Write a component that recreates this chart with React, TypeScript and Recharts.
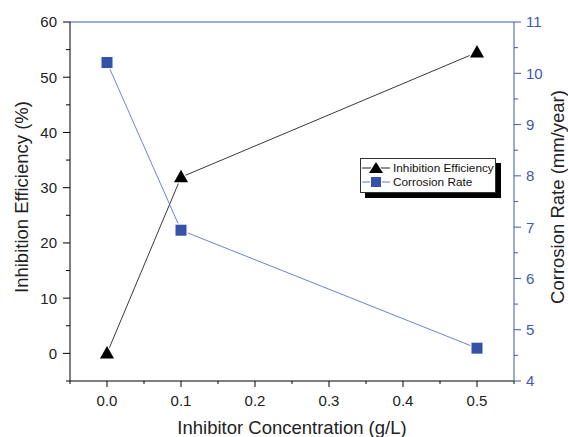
import React from 'react';
import { LineChart, Line, XAxis, YAxis, ReferenceLine } from 'recharts';

const concentration = [0, 0.1, 0.5];
const efficiency = [0, 31.9, 54.5];
const corrosionRate = [10.21, 6.94, 4.64];

const xTicks = [-0.05, 0, 0.05, 0.1, 0.15, 0.2, 0.25, 0.3, 0.35, 0.4, 0.45, 0.5, 0.55];
const xMajor = [0, 0.1, 0.2, 0.3, 0.4, 0.5];
const leftTicks = [-5, 0, 5, 10, 15, 20, 25, 30, 35, 40, 45, 50, 55, 60];
const leftMajor = [0, 10, 20, 30, 40, 50, 60];
const rightTicks = [4, 4.5, 5, 5.5, 6, 6.5, 7, 7.5, 8, 8.5, 9, 9.5, 10, 10.5, 11];
const rightMajor = [4, 5, 6, 7, 8, 9, 10, 11];

const seriesNames = ['Inhibition Efficiency', 'Corrosion Rate'];
const axisTitles = ['Inhibitor Concentration (g/L)', 'Inhibition Efficiency (%)', 'Corrosion Rate (mm/year)'];

const FONT = '"Liberation Sans", Arial, sans-serif';
const BLUE_AXIS = '#3F58B0';
const BLUE_MARK = '#3552A8';
const BLUE_LINE = '#5A76CC';
const TITLE_SIZE = 18.5;

const data = concentration.map((x, i) => ({ x, ie: efficiency[i], cr: corrosionRate[i] }));

const isMajor = (list: number[], v: number) => list.some(m => Math.abs(m - v) < 1e-9);

const makeTick = (side: 'left' | 'right' | 'bottom', majors: number[], color: string, fmt: (v: number) => string) =>
  (props: any) => {
    const { x, y, payload } = props;
    const v = payload.value;
    const major = isMajor(majors, v);
    const len = major ? 7 : 4;
    if (side === 'left') {
      return (
        <g>
          <line x1={x} y1={y} x2={x - len} y2={y} stroke={color} strokeWidth={1} />
          {major && <text x={x - 13} y={y} dy="0.36em" textAnchor="end" fontSize={15} fontFamily={FONT} fill="#222">{fmt(v)}</text>}
        </g>
      );
    }
    if (side === 'right') {
      return (
        <g>
          <line x1={x} y1={y} x2={x + len} y2={y} stroke={color} strokeWidth={1} />
          {major && <text x={x + 12} y={y} dy="0.36em" textAnchor="start" fontSize={15} fontFamily={FONT} fill={BLUE_AXIS}>{fmt(v)}</text>}
        </g>
      );
    }
    return (
      <g>
        <line x1={x} y1={y} x2={x} y2={y + len - 1} stroke={color} strokeWidth={1} />
        {major && <text x={x} y={y + 20} dy="0.36em" textAnchor="middle" fontSize={15} fontFamily={FONT} fill="#222">{fmt(v)}</text>}
      </g>
    );
  };

// axis titles, placed in chart coordinates
const Title = ({ text, x, y, rotate }: { text: string; x: number; y: number; rotate?: boolean }) => (
  <text
    x={x}
    y={y}
    transform={rotate ? `rotate(-90 ${x} ${y})` : undefined}
    textAnchor="middle"
    fontSize={TITLE_SIZE}
    fontFamily={FONT}
    fill="#222"
  >
    {text}
  </text>
);

const Triangle = (props: any) => {
  const { cx, cy } = props;
  if (cx == null || cy == null) return null;
  return <path d={`M${cx},${cy - 7.5} L${cx + 7},${cy + 5} L${cx - 7},${cy + 5} Z`} fill="#000" stroke="#fff" strokeWidth={2.5} paintOrder="stroke" />;
};

const Square = (props: any) => {
  const { cx, cy } = props;
  if (cx == null || cy == null) return null;
  return <rect x={cx - 5.5} y={cy - 5.5} width={11} height={11} fill={BLUE_MARK} stroke="#fff" strokeWidth={2.5} paintOrder="stroke" />;
};

const LegendBox = () => (
  <div style={{
    position: 'absolute', left: 352, top: 150, width: 134, height: 31,
    border: '1px solid #333', background: '#fff', boxShadow: '5px 5px 0 #000',
    fontFamily: FONT, fontSize: 11.8, color: '#111', lineHeight: '14px', paddingTop: 2,
  }}>
    {seriesNames.map((name, i) => (
      <div key={name} style={{ display: 'flex', alignItems: 'center', height: 14 }}>
        <svg width={31} height={14} style={{ flex: 'none' }}>
          <line x1={1} y1={7} x2={29} y2={7} stroke={i === 0 ? '#222' : BLUE_LINE} strokeWidth={1} />
          {i === 0
            ? <path d="M15,1 L22,12 L8,12 Z" fill="#000" stroke="#fff" strokeWidth={2} paintOrder="stroke" />
            : <rect x={10} y={2} width={10} height={10} fill={BLUE_MARK} stroke="#fff" strokeWidth={2} paintOrder="stroke" />}
        </svg>
        <span style={{ marginLeft: 1, whiteSpace: 'nowrap' }}>{name}</span>
      </div>
    ))}
  </div>
);

export default function App() {
  return (
    <div style={{ width: 568, height: 437, padding: 8, boxSizing: 'border-box', background: '#fff' }}>
      <style>{'body { margin: 0; }'}</style>
      <div style={{ position: 'relative', width: 560, height: 429 }}>
        <LineChart width={560} height={429} data={data} margin={{ top: 14, right: 0, bottom: 0, left: 0 }}>
          <XAxis
            dataKey="x"
            type="number"
            domain={[-0.05, 0.55]}
            ticks={xTicks}
            interval={0}
            height={56}
            tickSize={0}
            tickMargin={0}
            stroke="#000"
            tick={makeTick('bottom', xMajor, '#000', v => v.toFixed(1))}
            label={{ content: () => <Title text={axisTitles[0]} x={284} y={426} /> }}
          />
          <YAxis
            yAxisId="left"
            orientation="left"
            type="number"
            domain={[-5, 60]}
            ticks={leftTicks}
            interval={0}
            width={62}
            tickSize={0}
            tickMargin={0}
            stroke="#000"
            tick={makeTick('left', leftMajor, '#000', v => String(v))}
            label={{ content: () => <Title text={axisTitles[1]} x={20} y={189} rotate /> }}
          />
          <YAxis
            yAxisId="right"
            orientation="right"
            type="number"
            domain={[4, 11]}
            ticks={rightTicks}
            interval={0}
            width={54}
            tickSize={0}
            tickMargin={0}
            stroke={BLUE_AXIS}
            tick={makeTick('right', rightMajor, BLUE_AXIS, v => String(v))}
            label={{ content: () => <Title text={axisTitles[2]} x={556} y={189} rotate /> }}
          />
          <ReferenceLine yAxisId="left" y={60} stroke={BLUE_AXIS} strokeWidth={1} />
          <Line
            yAxisId="left"
            dataKey="ie"
            name={seriesNames[0]}
            stroke="#222"
            strokeWidth={0.9}
            dot={<Triangle />}
            activeDot={false}
            isAnimationActive={false}
          />
          <Line
            yAxisId="right"
            dataKey="cr"
            name={seriesNames[1]}
            stroke={BLUE_LINE}
            strokeWidth={0.9}
            dot={<Square />}
            activeDot={false}
            isAnimationActive={false}
          />
        </LineChart>
        <LegendBox />
      </div>
    </div>
  );
}
